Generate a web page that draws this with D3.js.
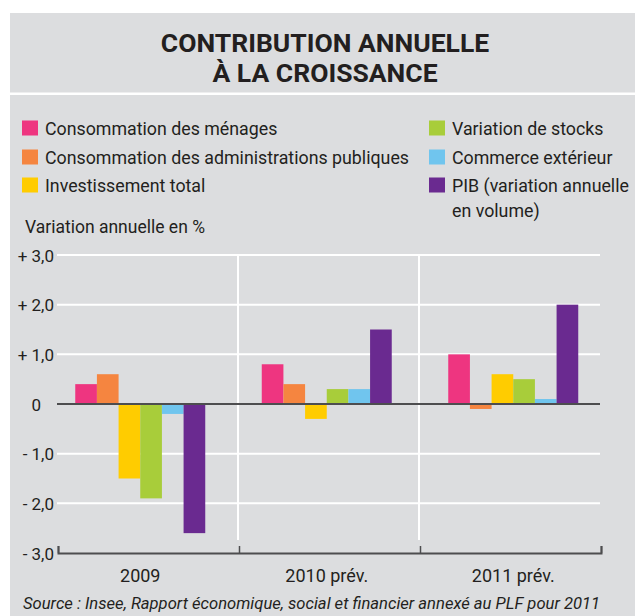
<!DOCTYPE html>
<html>
<head>
<meta charset="utf-8">
<script src="https://cdn.jsdelivr.net/npm/d3@7"></script>
<style>
  body { margin: 0; background: #fff; }
  text { font-family: Roboto, "Liberation Sans", sans-serif; fill: #231f20; }
</style>
</head>
<body>
<script>
var g_width = 635
var g_height = 616

// data
var years = ["2009", "2010 prév.", "2011 prév."]
var seriesNames = [
    "Consommation des ménages",
    "Consommation des administrations publiques",
    "Investissement total",
    "Variation de stocks",
    "Commerce extérieur",
    "PIB (variation annuelle en volume)"
]
var seriesColors = ["#ee3580", "#f58540", "#ffcc00", "#a8cd3a", "#70c5ee", "#6a2a90"]
var menages = [0.4, 0.8, 1.0]
var administrations = [0.6, 0.4, -0.1]
var investissement = [-1.5, -0.3, 0.6]
var stocks = [-1.9, 0.3, 0.5]
var commerce = [-0.2, 0.3, 0.1]
var pib = [-2.6, 1.5, 2.0]
var yTicks = [3, 2, 1, 0, -1, -2, -3]
var yTickLabels = ["+ 3,0", "+ 2,0", "+ 1,0", "0", "- 1,0", "- 2,0", "- 3,0"]

var allSeries = [menages, administrations, investissement, stocks, commerce, pib]

var svg = d3.select("body").append("svg")
    .attr("width", g_width)
    .attr("height", g_height)

// gray panel
svg.append("rect").attr("x", 10).attr("y", 13).attr("width", 625).attr("height", 603).attr("fill", "#dcdddf")
svg.append("rect").attr("x", 10).attr("y", 92.5).attr("width", 625).attr("height", 2.5).attr("fill", "#fff")

// title
svg.append("text").attr("x", 325).attr("y", 52).attr("text-anchor", "middle")
    .style("font-size", "26.5px").style("font-weight", "bold").text("CONTRIBUTION ANNUELLE")
svg.append("text").attr("x", 325).attr("y", 82).attr("text-anchor", "middle")
    .style("font-size", "26.5px").style("font-weight", "bold").text("À LA CROISSANCE")

// legend
var legendPos = [
    {x: 22, y: 128}, {x: 22, y: 157}, {x: 22, y: 185},
    {x: 429, y: 128}, {x: 429, y: 157}, {x: 429, y: 185}
]
seriesNames.forEach(function(name, i) {
    var p = legendPos[i]
    svg.append("rect").attr("x", p.x).attr("y", p.y - 7.5).attr("width", 16).attr("height", 15)
        .attr("fill", seriesColors[i])
    var t = svg.append("text").attr("x", p.x + 23).attr("y", p.y + 6.5).style("font-size", "17.8px")
    if (i == 5) {
        t.text("PIB (variation annuelle")
        svg.append("text").attr("x", p.x + 23).attr("y", p.y + 31.5).style("font-size", "17.8px").text("en volume)")
    } else {
        t.text(name)
    }
})

svg.append("text").attr("x", 25).attr("y", 233).style("font-size", "17.5px").text("Variation annuelle en %")

// scales
var plotLeft = 57, plotRight = 600
var yScale = d3.scaleLinear().domain([-3, 3]).range([553, 255])
var xFrame = d3.scaleLinear().domain([0, 3]).range([plotLeft, plotRight])
var x0 = d3.scaleBand().domain(years).range([47, 606.5]).paddingInner(0.303).paddingOuter(0.1515)
var x1 = d3.scaleBand().domain(d3.range(seriesNames.length)).range([0, x0.bandwidth()])

// horizontal grid (white)
svg.append("g").selectAll("line").data(yTicks.filter(function(d) { return d != -3 && d != 0 }))
    .join("line")
    .attr("x1", plotLeft).attr("x2", plotRight)
    .attr("y1", function(d) { return yScale(d) }).attr("y2", function(d) { return yScale(d) })
    .attr("stroke", "#fff").attr("stroke-width", 2)

// vertical separators
svg.append("g").selectAll("line").data([1, 2]).join("line")
    .attr("x1", function(d) { return xFrame(d) }).attr("x2", function(d) { return xFrame(d) })
    .attr("y1", yScale(3)).attr("y2", 540)
    .attr("stroke", "#fff").attr("stroke-width", 2)

// bars
years.forEach(function(year, yi) {
    allSeries.forEach(function(s, si) {
        var v = s[yi]
        svg.append("rect")
            .attr("x", x0(year) + x1(si))
            .attr("width", x1.bandwidth())
            .attr("y", yScale(Math.max(0, v)))
            .attr("height", Math.abs(yScale(v) - yScale(0)))
            .attr("fill", seriesColors[si])
    })
})

// zero line
svg.append("line").attr("x1", plotLeft).attr("x2", plotRight)
    .attr("y1", yScale(0)).attr("y2", yScale(0))
    .attr("stroke", "#4d4d4f").attr("stroke-width", 2)

// y labels
var yAxis = d3.axisLeft(yScale).tickValues(yTicks).tickSize(0)
    .tickFormat(function(d, i) { return yTickLabels[i] })
var yAxisPlot = svg.append("g").attr("transform", "translate(54,0)").call(yAxis)
yAxisPlot.select(".domain").remove()
yAxisPlot.selectAll("text")
    .attr("x", function(d) { return d == 0 ? -13 : 0 })
    .attr("dy", "0.36em")
    .style("font-size", "17px").style("font-family", "Roboto, sans-serif").attr("fill", "#231f20")

// bottom axis
var xAxis = d3.axisBottom(xFrame).tickValues([0, 1, 2, 3]).tickSize(-7).tickFormat("")
var xAxisPlot = svg.append("g").attr("transform", "translate(1," + yScale(-3) + ")").call(xAxis)
xAxisPlot.select(".domain").attr("stroke", "#4d4d4f").attr("stroke-width", 2)
xAxisPlot.selectAll(".tick line").attr("stroke", "#4d4d4f").attr("stroke-width", 1.5)

svg.append("g").selectAll("text").data(years).join("text")
    .attr("x", function(d) { return x0(d) + x0.bandwidth() / 2 })
    .attr("y", 582)
    .attr("text-anchor", "middle")
    .style("font-size", "18px")
    .text(function(d) { return d })

// source
svg.append("text").attr("x", 23).attr("y", 609).style("font-size", "16.6px").style("font-style", "italic")
    .text("Source : Insee, Rapport économique, social et financier annexé au PLF pour 2011")
</script>
</body>
</html>
